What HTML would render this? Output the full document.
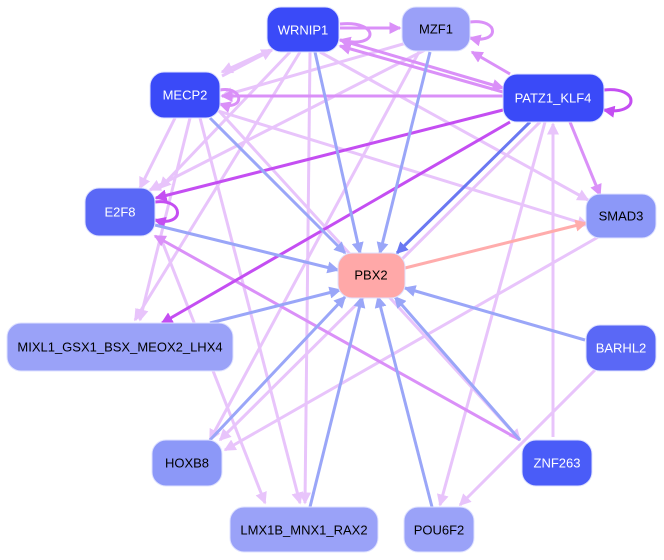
<!DOCTYPE html>
<html><head><style>
html,body{margin:0;padding:0;background:#fff;width:664px;height:560px;overflow:hidden}
text{font-family:"Liberation Sans",sans-serif;font-size:13px;text-anchor:middle;dominant-baseline:central}
</style></head><body>
<svg width="664" height="560" viewBox="0 0 664 560" xmlns="http://www.w3.org/2000/svg">
<defs>
<marker id="lb" markerWidth="4" markerHeight="4" refX="3.5" refY="2" orient="auto" markerUnits="strokeWidth"><path d="M0,0L4,2L0,4z" fill="#9aa6f8"/></marker>
<marker id="db" markerWidth="4" markerHeight="4" refX="3.5" refY="2" orient="auto" markerUnits="strokeWidth"><path d="M0,0L4,2L0,4z" fill="#6a78f2"/></marker>
<marker id="lp" markerWidth="4" markerHeight="4" refX="3.5" refY="2" orient="auto" markerUnits="strokeWidth"><path d="M0,0L4,2L0,4z" fill="#e8c4fb"/></marker>
<marker id="mp" markerWidth="4" markerHeight="4" refX="3.5" refY="2" orient="auto" markerUnits="strokeWidth"><path d="M0,0L4,2L0,4z" fill="#da90f8"/></marker>
<marker id="dp" markerWidth="4" markerHeight="4" refX="3.5" refY="2" orient="auto" markerUnits="strokeWidth"><path d="M0,0L4,2L0,4z" fill="#c44ef2"/></marker>
<marker id="pk" markerWidth="4" markerHeight="4" refX="3.5" refY="2" orient="auto" markerUnits="strokeWidth"><path d="M0,0L4,2L0,4z" fill="#ffacac"/></marker>
</defs>
<g fill="none" stroke-width="3">
<!-- light lavender -->
<g stroke="#e8c4fb" marker-end="url(#lp)">
<line x1="290" y1="52" x2="160" y2="188"/>
<line x1="300" y1="52" x2="135" y2="320"/>
<line x1="310" y1="52" x2="305" y2="503"/>
<line x1="320" y1="52" x2="588" y2="200"/>
<line x1="410" y1="42" x2="222" y2="96"/>
<line x1="420" y1="50" x2="210" y2="440"/>
<line x1="425" y1="50" x2="150" y2="190"/>
<line x1="200" y1="118" x2="300" y2="503"/>
<line x1="215" y1="110" x2="588" y2="225"/>
<line x1="175" y1="118" x2="140" y2="188"/>
<line x1="190" y1="118" x2="140" y2="320"/>
<line x1="220" y1="112" x2="520" y2="440"/>
<line x1="540" y1="122" x2="220" y2="440"/>
<line x1="545" y1="122" x2="440" y2="505"/>
<line x1="553" y1="437" x2="553" y2="124"/>
<line x1="595" y1="370" x2="460" y2="505"/>
<line x1="600" y1="236" x2="225" y2="450"/>
<line x1="160" y1="236" x2="265" y2="503"/>
<line x1="270" y1="50" x2="222" y2="72"/>
<line x1="222" y1="76" x2="272" y2="50"/>
</g>
<g stroke="#da90f8" marker-end="url(#mp)">
<line x1="340" y1="28" x2="400" y2="28"/>
<line x1="503" y1="92" x2="340" y2="46"/>
<line x1="340" y1="40" x2="503" y2="88"/>
<line x1="510" y1="74" x2="472" y2="52"/>
<line x1="503" y1="96" x2="222" y2="96"/>
<line x1="570" y1="122" x2="600" y2="195"/>
<line x1="520" y1="440" x2="155" y2="236"/>
<path d="M340,24 C380,20 380,50 340,40"/>
<path d="M470,22 C500,18 500,45 470,38"/>
<path d="M220,90 C245,86 245,112 220,104"/>
</g>
<g stroke="#c44ef2" marker-end="url(#dp)">
<line x1="503" y1="110" x2="156" y2="198"/>
<line x1="510" y1="122" x2="162" y2="323"/>
<path d="M604,90 C640,86 640,116 604,110"/>
<path d="M155,202 C185,198 185,228 155,220"/>
</g>
<g stroke="#9aa6f8" marker-end="url(#lb)">
<line x1="315" y1="52" x2="360" y2="253"/>
<line x1="430" y1="52" x2="380" y2="253"/>
<line x1="210" y1="118" x2="345" y2="253"/>
<line x1="155" y1="225" x2="338" y2="270"/>
<line x1="210" y1="323" x2="340" y2="290"/>
<line x1="585" y1="340" x2="405" y2="288"/>
<line x1="520" y1="440" x2="395" y2="297"/>
<line x1="210" y1="440" x2="345" y2="297"/>
<line x1="310" y1="507" x2="362" y2="297"/>
<line x1="432" y1="507" x2="378" y2="297"/>
</g>
<line x1="530" y1="122" x2="397" y2="253" stroke="#6a78f2" marker-end="url(#db)"/>
<line x1="405" y1="268" x2="586" y2="223" stroke="#ffacac" marker-end="url(#pk)"/>
</g>
<g stroke="#dfe2ff" stroke-width="1">
<rect x="267" y="7" width="72" height="45" rx="14" fill="#3a4af8"/>
<rect x="402" y="7" width="68" height="44" rx="14" fill="#9aa0f8"/>
<rect x="150" y="72" width="70" height="46" rx="14" fill="#3a4af8"/>
<rect x="503" y="74" width="101" height="48" rx="14" fill="#3a4af8"/>
<rect x="85" y="188" width="70" height="48" rx="14" fill="#5a68f6"/>
<rect x="586" y="194" width="70" height="44" rx="14" fill="#8c98f8"/>
<rect x="338" y="253" width="67" height="45" rx="14" fill="#ffa8a8"/>
<rect x="7" y="323" width="226" height="48" rx="14" fill="#9aa2f8"/>
<rect x="586" y="325" width="70" height="46" rx="14" fill="#5a68f6"/>
<rect x="152" y="440" width="70" height="46" rx="14" fill="#8c98f8"/>
<rect x="522" y="440" width="70" height="46" rx="14" fill="#4a5cf8"/>
<rect x="230" y="507" width="148" height="45" rx="14" fill="#9aa2f8"/>
<rect x="404" y="507" width="70" height="45" rx="14" fill="#9aa2f8"/>
</g>
<text x="303" y="30" fill="#fff">WRNIP1</text>
<text x="436" y="29" fill="#000">MZF1</text>
<text x="185" y="95" fill="#fff">MECP2</text>
<text x="553" y="98" fill="#fff">PATZ1_KLF4</text>
<text x="120" y="212" fill="#fff">E2F8</text>
<text x="621" y="216" fill="#000">SMAD3</text>
<text x="371" y="275" fill="#000">PBX2</text>
<text x="120" y="347" fill="#000">MIXL1_GSX1_BSX_MEOX2_LHX4</text>
<text x="621" y="348" fill="#fff">BARHL2</text>
<text x="187" y="463" fill="#000">HOXB8</text>
<text x="557" y="463" fill="#fff">ZNF263</text>
<text x="304" y="530" fill="#000">LMX1B_MNX1_RAX2</text>
<text x="439" y="530" fill="#000">POU6F2</text>
</svg>
</body></html>
